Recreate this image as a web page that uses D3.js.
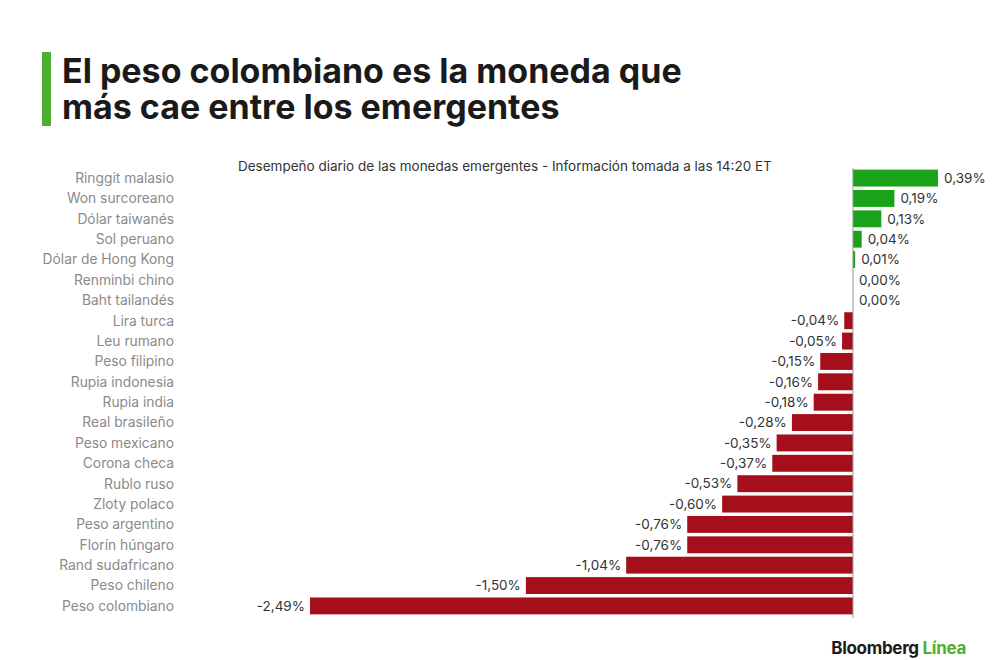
<!DOCTYPE html>
<html><head><meta charset="utf-8">
<script src="https://cdn.jsdelivr.net/npm/d3@7"></script>
<style>body{margin:0;background:#fff;font-family:Inter,"Liberation Sans",sans-serif;}</style>
</head><body><div id="chart"></div>
<script>
// Currencies, top to bottom
var currencies = ["Ringgit malasio","Won surcoreano","Dólar taiwanés","Sol peruano","Dólar de Hong Kong","Renminbi chino","Baht tailandés","Lira turca","Leu rumano","Peso filipino","Rupia indonesia","Rupia india","Real brasileño","Peso mexicano","Corona checa","Rublo ruso","Zloty polaco","Peso argentino","Florín húngaro","Rand sudafricano","Peso chileno","Peso colombiano"];
var changes = [0.39,0.19,0.13,0.04,0.01,0.00,0.00,-0.04,-0.05,-0.15,-0.16,-0.18,-0.28,-0.35,-0.37,-0.53,-0.60,-0.76,-0.76,-1.04,-1.50,-2.49];

var svg = d3.select("#chart").append("svg").attr("width",1000).attr("height",660);

// title block
svg.append("rect").attr("x",42).attr("y",52).attr("width",9).attr("height",74).attr("fill","#4caf32");
svg.append("text").attr("x",62).attr("y",83).attr("font-size",34).attr("font-weight",700).attr("fill","#1a1a1a")
  .text("El peso colombiano es la moneda que");
svg.append("text").attr("x",62).attr("y",119).attr("font-size",34).attr("font-weight",700).attr("fill","#1a1a1a")
  .text("más cae entre los emergentes");

svg.append("text").attr("x",238).attr("y",171).attr("font-size",13.5).attr("fill","#333")
  .text("Desempeño diario de las monedas emergentes - Información tomada a las 14:20 ET");

var x = d3.scaleLinear().domain([-2.49,0.39]).range([310,938]);
var y = d3.scaleBand().domain(currencies).range([168,616]).paddingInner(0.17).paddingOuter(0.08);

var fmt = function(v){ return (v.toFixed(2)+"%").replace(".",","); };

// labels
svg.selectAll(".lbl").data(currencies).enter().append("text")
  .attr("x",174).attr("y",d => y(d)+y.bandwidth()/2).attr("dy","0.35em")
  .attr("text-anchor","end").attr("font-size",13.8).attr("fill","#8a8a8a").text(d => d);

var rows = currencies.map((c,i) => ({name:c, v:changes[i]}));

svg.selectAll(".bar").data(rows).enter().append("rect")
  .attr("x",d => x(Math.min(0,d.v))).attr("y",d => y(d.name))
  .attr("width",d => Math.abs(x(d.v)-x(0))).attr("height",y.bandwidth())
  .attr("fill",d => d.v >= 0 ? "#1aa31a" : "#a50f1c");

// zero line
svg.append("line").attr("x1",x(0)).attr("x2",x(0)).attr("y1",168).attr("y2",618)
  .attr("stroke","#999").attr("stroke-width",1);

svg.selectAll(".val").data(rows).enter().append("text")
  .attr("x",d => d.v >= 0 ? x(d.v)+6 : x(d.v)-5)
  .attr("y",d => y(d.name)+y.bandwidth()/2).attr("dy","0.35em")
  .attr("text-anchor",d => d.v >= 0 ? "start" : "end")
  .attr("font-size",13.5).attr("fill","#333").text(d => fmt(d.v));

// logo
var logo = svg.append("text").attr("x",966).attr("y",654).attr("text-anchor","end")
  .attr("font-size",17).attr("font-weight",700).attr("letter-spacing","-0.3");
logo.append("tspan").attr("fill","#1a1a1a").text("Bloomberg ");
logo.append("tspan").attr("fill","#4caf32").text("Línea");
</script></body></html>
